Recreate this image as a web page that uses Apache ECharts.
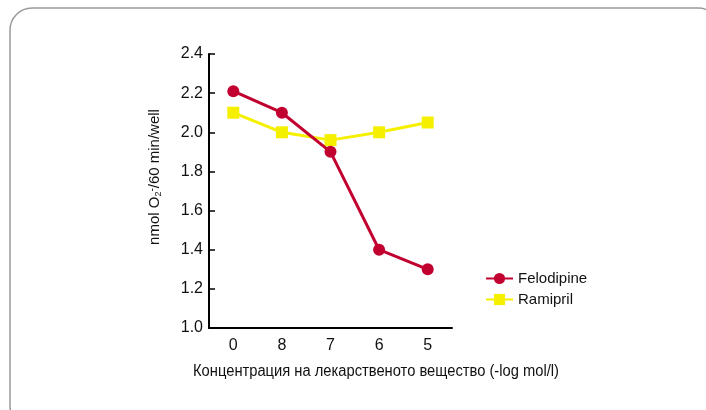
<!DOCTYPE html>
<html>
<head>
<meta charset="utf-8">
<script src="https://cdn.jsdelivr.net/npm/echarts@6/dist/echarts.min.js"></script>
<style>
  html, body { margin: 0; padding: 0; background: #fff; }
  #chart { width: 706px; height: 410px; }
</style>
</head>
<body>
<div id="chart"></div>
<script>
// Concentration steps (-log mol/l) and oxygen consumption per well
const categories = ['0', '8', '7', '6', '5'];
const felodipine = [2.21, 2.10, 1.90, 1.40, 1.30];
const ramipril = [2.10, 2.00, 1.96, 2.00, 2.05];
const yMin = 1.0, yMax = 2.4, yStep = 0.2;

const FONT = '"Liberation Sans", Arial, sans-serif';
const RED = '#c20030';
const YELLOW = '#f5ef00';

const chart = echarts.init(document.getElementById('chart'), null, { renderer: 'canvas' });

chart.setOption({
  animation: false,
  backgroundColor: '#fff',
  textStyle: { fontFamily: FONT, color: '#111' },
  grid: { left: 209, right: 254, top: 54, bottom: 82, containLabel: false },
  legend: {
    orient: 'vertical',
    left: 480,
    top: 266,
    itemWidth: 27,
    itemHeight: 14,
    itemGap: 6,
    textStyle: { fontFamily: FONT, fontSize: 15, color: '#111' },
    data: ['Felodipine', 'Ramipril']
  },
  xAxis: {
    type: 'category',
    data: categories,
    boundaryGap: true,
    axisLine: { lineStyle: { color: '#000', width: 2 } },
    axisTick: { inside: true, length: 5, alignWithLabel: true, lineStyle: { color: '#000', width: 1.5 } },
    axisLabel: { margin: 10, fontSize: 16, color: '#111', fontFamily: FONT },
    splitLine: { show: false }
  },
  yAxis: {
    type: 'value',
    min: yMin,
    max: yMax,
    interval: yStep,
    axisLine: { show: true, lineStyle: { color: '#000', width: 2 } },
    axisTick: { show: true, inside: true, length: 6, lineStyle: { color: '#000', width: 1.5 } },
    axisLabel: { margin: 6, fontSize: 16, color: '#111', fontFamily: FONT,
                 formatter: v => v.toFixed(1) },
    splitLine: { show: false }
  },
  graphic: [
    {
      type: 'rect',
      shape: { x: 10, y: 8, width: 710, height: 420, r: 22 },
      style: { fill: 'none', stroke: '#9a9a9a', lineWidth: 1.5 },
      silent: true,
      z: -1
    },
    {
      type: 'text',
      x: 155, y: 177,
      rotation: Math.PI / 2,
      style: {
        text: 'nmol O{sub|2}{sup|-}/60 min/well',
        font: '15px ' + FONT,
        fill: '#111',
        align: 'center',
        verticalAlign: 'middle',
        rich: {
          sub: { fontSize: 9, fontFamily: FONT, verticalAlign: 'bottom', fill: '#111', padding: [6, 0, 0, 0] },
          sup: { fontSize: 10, fontFamily: FONT, verticalAlign: 'top', fill: '#111', padding: [0, 0, 6, 0] }
        }
      }
    },
    {
      type: 'text',
      x: 376, y: 372,
      scaleX: 0.92,
      style: {
        text: 'Концентрация на лекарственото вещество (-log mol/l)',
        font: '16px ' + FONT,
        fill: '#111',
        align: 'center',
        verticalAlign: 'middle'
      }
    }
  ],
  series: [
    {
      name: 'Felodipine',
      type: 'line',
      data: felodipine,
      symbol: 'circle',
      symbolSize: 12,
      itemStyle: { color: RED },
      lineStyle: { color: RED, width: 3 },
      z: 3
    },
    {
      name: 'Ramipril',
      type: 'line',
      data: ramipril,
      symbol: 'rect',
      symbolSize: 12,
      itemStyle: { color: YELLOW },
      lineStyle: { color: YELLOW, width: 3 },
      z: 2
    }
  ]
});
</script>
</body>
</html>
